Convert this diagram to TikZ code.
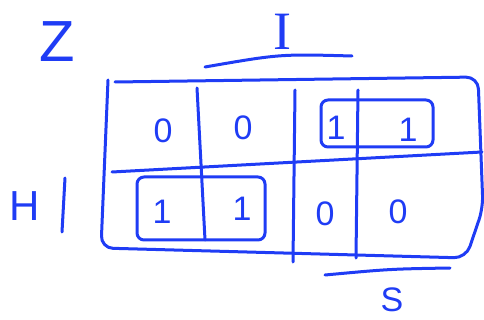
\documentclass[tikz,border=0pt]{standalone}
\usepackage{fontspec}
\setmainfont{Liberation Sans}
\newfontfamily\serifpen{Liberation Serif}
\usepackage{xcolor}
\definecolor{pen}{HTML}{1F3CF5}

\begin{document}
\begin{tikzpicture}[
  x=1pt, y=-1pt,
  ink/.style={draw=pen, line width=3pt, line cap=round, line join=round},
  cell/.style={text=pen, inner sep=0pt, font=\fontsize{34}{34}\selectfont},
  varname/.style={text=pen, inner sep=0pt}
]
\useasboundingbox (0,0) rectangle (484,320);
\draw[ink, rounded corners=12pt] (115,82) -- (478,77) -- (483,208) -- (466,258) -- (101,248) -- (108,80);
\draw[ink] (112,172) -- (482,152);
\draw[ink] (197,88) -- (205,240);
\draw[ink] (295,90) -- (293,262);
\draw[ink] (358,90) -- (356,258);
\node[cell] (a00) at (163,131) {0};
\node[cell] (a01) at (243,128) {0};
\node[cell] (a11) at (336,128) {1};
\node[cell] (a10) at (408,130) {1};
\node[cell] (b00) at (162,212) {1};
\node[cell] (b01) at (242,209) {1};
\node[cell] (b11) at (325,214) {0};
\node[cell] (b10) at (398,212) {0};
\draw[ink, rounded corners=7pt] (321,100) rectangle (433,147);
\draw[ink, rounded corners=7pt] (137,177) rectangle (265,240);
\draw[ink] (205,67) .. controls (280,54) .. (352,56);
\draw[ink] (325,275) .. controls (390,269) .. (450,268);
\draw[ink] (65,178) -- (62,232);
\node[varname, font=\fontsize{58}{58}\selectfont] (zout) at (57,42) {Z};
\node[varname, font=\serifpen\fontsize{54}{54}\selectfont] (ivar) at (282,32) {I};
\node[varname, font=\fontsize{34}{34}\selectfont] (svar) at (392,300) {S};
\node[varname, font=\fontsize{42}{42}\selectfont] (hvar) at (25,206) {H};
\end{tikzpicture}
\end{document}
